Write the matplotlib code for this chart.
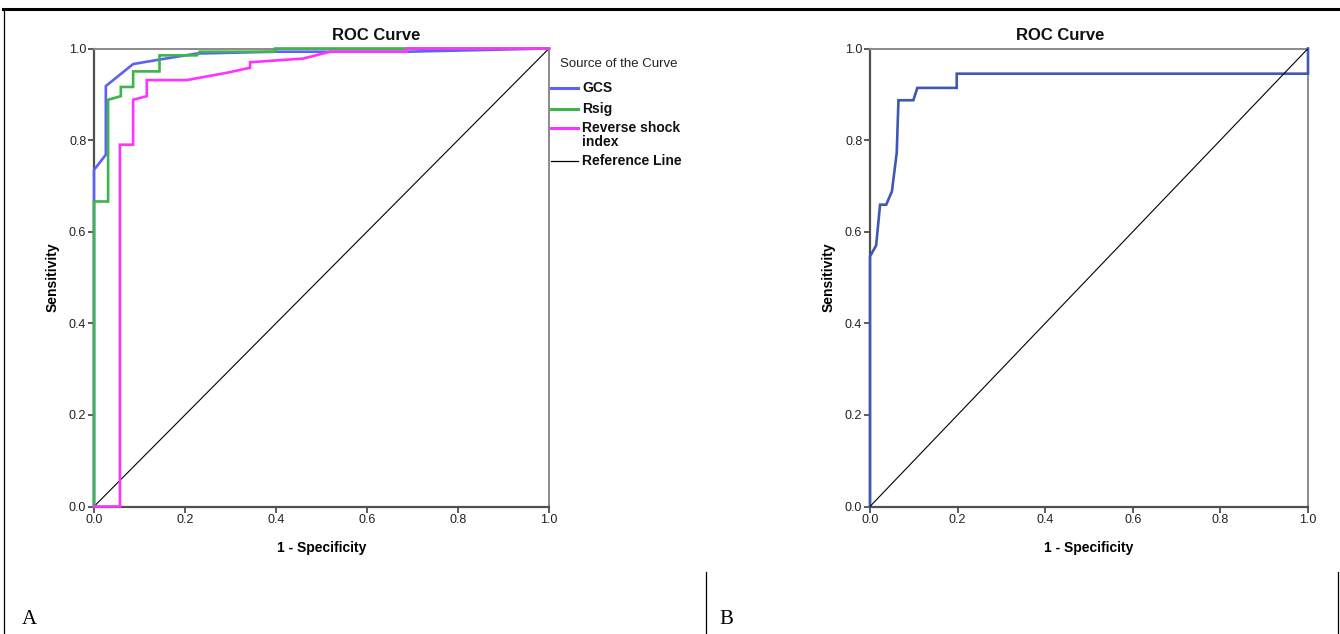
import matplotlib
matplotlib.use("Agg")
import matplotlib.pyplot as plt
from matplotlib.lines import Line2D

plt.rcParams['font.family'] = ['Liberation Sans', 'DejaVu Sans']

# ---------------- data ----------------
gcs_fpr = [0, 0, 0.026, 0.026, 0.086, 0.145, 0.226, 0.40, 0.687, 1.0]
gcs_tpr = [0, 0.735, 0.768, 0.918, 0.966, 0.976, 0.989, 0.993, 0.993, 1.0]

rsig_fpr = [0, 0, 0.031, 0.031, 0.059, 0.059, 0.086, 0.086, 0.144, 0.144, 0.226, 0.232, 0.398, 0.398, 1.0]
rsig_tpr = [0, 0.666, 0.666, 0.888, 0.896, 0.916, 0.916, 0.950, 0.950, 0.985, 0.985, 0.993, 0.993, 1.0, 1.0]

rsi_fpr = [0, 0.057, 0.057, 0.086, 0.086, 0.116, 0.116, 0.204, 0.292, 0.343, 0.343, 0.46, 0.519, 0.687, 0.687, 1.0]
rsi_tpr = [0, 0, 0.79, 0.79, 0.888, 0.896, 0.931, 0.931, 0.947, 0.958, 0.970, 0.978, 0.993, 0.993, 1.0, 1.0]

b_fpr = [0, 0, 0.014, 0.023, 0.037, 0.050, 0.061, 0.065, 0.099, 0.108, 0.198, 0.198, 1.0, 1.0]
b_tpr = [0, 0.546, 0.570, 0.659, 0.659, 0.688, 0.772, 0.887, 0.887, 0.914, 0.914, 0.945, 0.945, 1.0]

ref_line = [0.0, 1.0]
ticks = [0.0, 0.2, 0.4, 0.6, 0.8, 1.0]
tick_labels = ["0.0", "0.2", "0.4", "0.6", "0.8", "1.0"]

series_names = ["GCS", "Rsig", "Reverse shock\nindex", "Reference Line"]
series_colors = ["#5c62f5", "#3db54a", "#ff33ff", "#000000"]

W, H = 1340, 634
fig = plt.figure(figsize=(W / 100, H / 100), dpi=100)


def fx(px):
    return px / W


def fy(py):
    return 1 - py / H


def style_axes(ax):
    ax.set_xlim(0, 1)
    ax.set_ylim(0, 1)
    ax.set_xticks(ticks)
    ax.set_yticks(ticks)
    ax.set_xticklabels(tick_labels)
    ax.set_yticklabels(tick_labels)
    ax.tick_params(axis='both', direction='out', length=4, width=1.2, color='#404040',
                   labelsize=9, pad=1.5, labelcolor='#222222')
    for s in ['left', 'bottom']:
        ax.spines[s].set_color('#505050')
        ax.spines[s].set_linewidth(1.6)
    for s in ['top', 'right']:
        ax.spines[s].set_color('#8a8a8a')
        ax.spines[s].set_linewidth(1.4)
    ax.set_xlabel("1 - Specificity", fontsize=10, fontweight='bold', labelpad=11)
    ax.set_ylabel("Sensitivity", fontsize=10, fontweight='bold', labelpad=7)


kw = dict(lw=1.9, solid_joinstyle='miter', clip_on=False, zorder=3)

# Panel A
axA = fig.add_axes([fx(94), fy(506.5), fx(549 - 94), (506.5 - 48.5) / H])
axA.plot(ref_line, ref_line, color='#000000', lw=0.8, zorder=2.8)
axA.plot(gcs_fpr, gcs_tpr, color=series_colors[0], **kw)
axA.plot(rsig_fpr, rsig_tpr, color=series_colors[1], **kw)
axA.plot(rsi_fpr, rsi_tpr, color=series_colors[2], **kw)
style_axes(axA)

# Panel B
axB = fig.add_axes([fx(870), fy(506.5), fx(1308 - 870), (506.5 - 48.5) / H])
axB.plot(b_fpr, b_tpr, color="#3f58b4", **kw)
axB.plot(ref_line, ref_line, color='#000000', lw=0.8, zorder=3)
style_axes(axB)

# Titles
fig.text(fx(376), fy(35), "ROC Curve", fontsize=12, fontweight='bold', ha='center', va='center', color='#111111')
fig.text(fx(1060), fy(35), "ROC Curve", fontsize=12, fontweight='bold', ha='center', va='center', color='#111111')

# Legend (panel A)
fig.text(fx(560), fy(64), "Source of the Curve", fontsize=9.5, ha='left', va='center', color='#222222')
leg_y = [88, 109, 135, 161]
for name, col, yy in zip(series_names, series_colors, leg_y):
    lw = 0.9 if col == "#000000" else 2.2
    ly = yy if "\n" not in name else 128
    fig.add_artist(Line2D([fx(551), fx(578)], [fy(ly), fy(ly)], color=col, lw=lw))
    fig.text(fx(582), fy(yy), name, fontsize=10, fontweight='bold', ha='left', va='center',
             color='#111111', linespacing=0.95)

# Page borders and panel labels
fig.add_artist(Line2D([fx(3), fx(1340)], [fy(8.8), fy(8.8)], color='black', lw=2.2))
fig.add_artist(Line2D([fx(3.5), fx(3.5)], [fy(8.8), fy(634)], color='black', lw=0.9))
fig.add_artist(Line2D([fx(705.5), fx(705.5)], [fy(572), fy(634)], color='black', lw=0.9))
fig.add_artist(Line2D([fx(1337.5), fx(1337.5)], [fy(572), fy(634)], color='black', lw=0.9))
fig.text(fx(22), fy(619), "A", fontsize=15, family=['Liberation Serif', 'DejaVu Serif'], ha='left', va='center')
fig.text(fx(719), fy(619), "B", fontsize=15, family=['Liberation Serif', 'DejaVu Serif'], ha='left', va='center')

fig.savefig("out.png", dpi=100)
